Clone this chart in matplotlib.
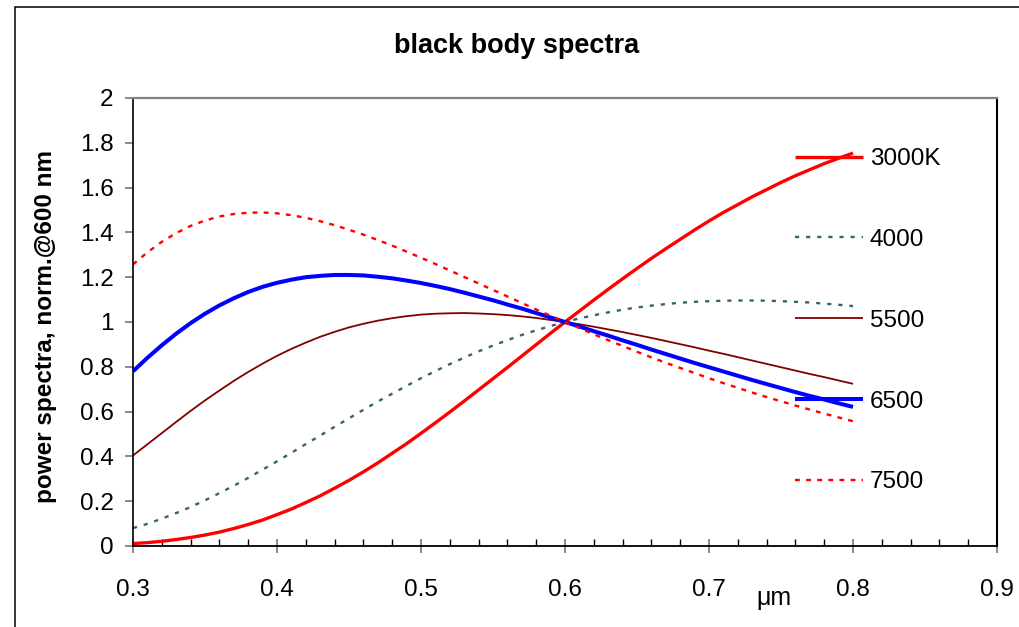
import matplotlib
matplotlib.use("Agg")
import matplotlib.pyplot as plt
from matplotlib.patches import Rectangle
from matplotlib.ticker import MultipleLocator, FuncFormatter

plt.rcParams['font.family'] = ['Liberation Sans', 'DejaVu Sans']
plt.rcParams['lines.scale_dashes'] = False

# wavelength grid in micrometres
wavelength = [0.30, 0.31, 0.32, 0.33, 0.34, 0.35, 0.36, 0.37, 0.38, 0.39,
              0.40, 0.41, 0.42, 0.43, 0.44, 0.45, 0.46, 0.47, 0.48, 0.49,
              0.50, 0.51, 0.52, 0.53, 0.54, 0.55, 0.56, 0.57, 0.58, 0.59,
              0.60, 0.61, 0.62, 0.63, 0.64, 0.65, 0.66, 0.67, 0.68, 0.69,
              0.70, 0.71, 0.72, 0.73, 0.74, 0.75, 0.76, 0.77, 0.78, 0.79,
              0.80]

# black body power spectra, normalised to 1 at 600 nm
spec_3000 = [0.011, 0.015, 0.021, 0.029, 0.038, 0.049, 0.062, 0.078, 0.096, 0.116,
             0.140, 0.165, 0.194, 0.224, 0.258, 0.293, 0.331, 0.371, 0.414, 0.457,
             0.503, 0.550, 0.598, 0.647, 0.697, 0.747, 0.797, 0.848, 0.899, 0.950,
             1.000, 1.049, 1.098, 1.146, 1.193, 1.239, 1.284, 1.327, 1.369, 1.411,
             1.451, 1.489, 1.524, 1.559, 1.591, 1.623, 1.653, 1.680, 1.707, 1.731,
             1.754]
spec_4000 = [0.080, 0.099, 0.122, 0.147, 0.174, 0.204, 0.236, 0.269, 0.304, 0.341,
             0.378, 0.416, 0.455, 0.493, 0.532, 0.570, 0.608, 0.645, 0.680, 0.715,
             0.749, 0.781, 0.812, 0.841, 0.869, 0.895, 0.919, 0.942, 0.963, 0.982,
             1.000, 1.016, 1.030, 1.043, 1.055, 1.065, 1.073, 1.080, 1.086, 1.090,
             1.093, 1.095, 1.096, 1.096, 1.095, 1.093, 1.090, 1.087, 1.082, 1.077,
             1.071]
spec_5500 = [0.404, 0.454, 0.504, 0.554, 0.603, 0.650, 0.694, 0.737, 0.777, 0.814,
             0.849, 0.880, 0.908, 0.934, 0.956, 0.976, 0.992, 1.006, 1.017, 1.026,
             1.033, 1.037, 1.039, 1.040, 1.038, 1.035, 1.031, 1.025, 1.018, 1.009,
             1.000, 0.990, 0.979, 0.967, 0.955, 0.942, 0.929, 0.915, 0.901, 0.887,
             0.872, 0.858, 0.843, 0.828, 0.813, 0.798, 0.783, 0.768, 0.754, 0.739,
             0.724]
spec_6500 = [0.780, 0.840, 0.896, 0.948, 0.995, 1.037, 1.074, 1.106, 1.134, 1.157,
             1.175, 1.189, 1.200, 1.206, 1.210, 1.210, 1.208, 1.202, 1.195, 1.185,
             1.174, 1.161, 1.147, 1.131, 1.114, 1.097, 1.078, 1.060, 1.040, 1.020,
             1.000, 0.980, 0.959, 0.939, 0.918, 0.898, 0.877, 0.857, 0.837, 0.817,
             0.798, 0.779, 0.760, 0.741, 0.723, 0.705, 0.687, 0.670, 0.654, 0.637,
             0.621]
spec_7500 = [1.257, 1.311, 1.358, 1.397, 1.429, 1.453, 1.471, 1.482, 1.488, 1.489,
             1.485, 1.477, 1.465, 1.450, 1.432, 1.412, 1.390, 1.366, 1.341, 1.314,
             1.287, 1.259, 1.230, 1.201, 1.172, 1.143, 1.114, 1.085, 1.056, 1.028,
             1.000, 0.973, 0.945, 0.919, 0.893, 0.867, 0.842, 0.818, 0.795, 0.772,
             0.749, 0.727, 0.706, 0.685, 0.665, 0.646, 0.627, 0.609, 0.591, 0.574,
             0.557]

series_labels = ['3000K', '4000', '5500', '6500', '7500']

W, H = 1020, 627
fig = plt.figure(figsize=(W / 100, H / 100), dpi=100)
fig.patch.set_facecolor('white')

# outer chart frame
fig.patches.append(Rectangle((15 / W, -0.1), 1.2, 1 - 7 / H + 0.1,
                             transform=fig.transFigure, fill=False,
                             edgecolor='black', lw=1.1, zorder=0))

ax = fig.add_axes([133 / W, 81 / H, 864 / W, 448 / H])

styles = [
    dict(color='#FF0000', lw=2.4, ls='-'),
    dict(color='#336666', lw=1.7, dashes=(3.0, 5.0)),
    dict(color='#800000', lw=1.3, ls='-'),
    dict(color='#0000FF', lw=2.9, ls='-'),
    dict(color='#FF0000', lw=1.7, dashes=(3.5, 4.5)),
]
series = [spec_3000, spec_4000, spec_5500, spec_6500, spec_7500]
handles = []
for vals, st, lab in zip(series, styles, series_labels):
    h, = ax.plot(wavelength, vals, label=lab, solid_capstyle='butt',
                 dash_capstyle='butt', **st)
    handles.append(h)

ax.set_xlim(0.3, 0.9)
ax.set_ylim(0, 2)
ax.xaxis.set_major_locator(MultipleLocator(0.1))
ax.xaxis.set_minor_locator(MultipleLocator(0.02))
ax.yaxis.set_major_locator(MultipleLocator(0.2))
fmt = FuncFormatter(lambda v, p: ('%.1f' % v).rstrip('0').rstrip('.') if abs(v) > 1e-9 else '0')
ax.xaxis.set_major_formatter(fmt)
ax.yaxis.set_major_formatter(fmt)

ax.tick_params(axis='x', which='major', direction='inout', length=10,
               width=1.3, color='#808080', labelsize=17.5, pad=18.5)
ax.tick_params(axis='x', which='minor', direction='in', length=5,
               width=1.0, color='black')
ax.tick_params(axis='y', which='major', direction='out', length=6,
               width=1.3, color='#808080', labelsize=17.5, pad=8)

for side in ['left', 'bottom', 'right']:
    ax.spines[side].set_color('black')
ax.spines['left'].set_linewidth(1.2)
ax.spines['bottom'].set_linewidth(1.3)
ax.spines['right'].set_linewidth(1.5)
ax.spines['top'].set_color('#808080')
ax.spines['top'].set_linewidth(1.6)

fig.text(517 / W, 1 - 46 / H, 'black body spectra', fontsize=19.5,
         fontweight='bold', ha='center', va='center')
fig.text(46 / W, 1 - 327 / H, 'power spectra, norm.@600 nm', fontsize=17.5,
         fontweight='bold', rotation=90, ha='center', va='center')
fig.text(774 / W, 1 - 598 / H, 'μm', fontsize=18, ha='center', va='center')

ax.legend(handles, series_labels, loc='upper left',
          bbox_to_anchor=(795 / W, 1 - 148 / H), bbox_transform=fig.transFigure,
          frameon=False, fontsize=17.5, handlelength=2.8, handletextpad=0.28,
          labelspacing=2.42, borderpad=0, borderaxespad=0)

fig.savefig('out.png', dpi=100, facecolor='white')
